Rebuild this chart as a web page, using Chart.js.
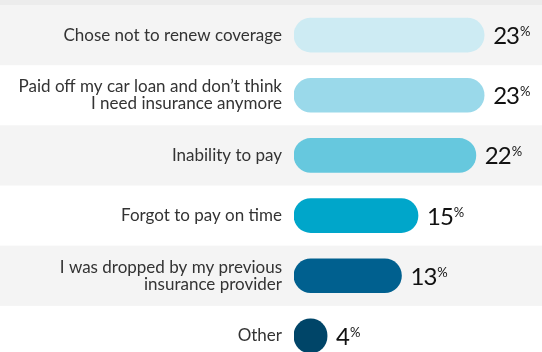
<!DOCTYPE html>
<html>
<head>
<meta charset="utf-8">
<script src="https://cdn.jsdelivr.net/npm/chart.js@4.4.1/dist/chart.umd.min.js"></script>
<style>
  html, body { margin: 0; padding: 0; background: #fff; overflow: hidden; }
  #wrap { width: 542px; height: 352px; overflow: hidden; }
</style>
</head>
<body>
<div id="wrap"><canvas id="myChart"></canvas></div>
<script>
// 数据
const reasons = [
  'Chose not to renew coverage',
  ['Paid off my car loan and don\u2019t think', 'I need insurance anymore'],
  'Inability to pay',
  'Forgot to pay on time',
  ['I was dropped by my previous', 'insurance provider'],
  'Other'
]
const shares = [23, 23, 22, 15, 13, 4]
const barColors = ['#cdebf3', '#9ad9ea', '#66c8de', '#00a6ca', '#00608f', '#004568']

const canvas = document.getElementById('myChart')
canvas.width = 542
canvas.height = 366
const ctx = canvas.getContext('2d')

// 背景条纹
const bandPlugin = {
  id: 'bands',
  beforeDraw(chart) {
    const c = chart.ctx
    const y = chart.scales.y
    const area = chart.chartArea
    const step = (area.bottom - area.top) / reasons.length
    c.save()
    c.fillStyle = '#ececec'
    c.fillRect(0, 0, chart.width, area.top)
    for (let i = 0; i < reasons.length; i++) {
      if (i % 2 == 0) {
        const mid = y.getPixelForValue(i)
        c.fillStyle = '#f4f4f4'
        c.fillRect(0, mid - step / 2, chart.width, step)
      }
    }
    c.restore()
  }
}

// 数值标签
const valuePlugin = {
  id: 'values',
  afterDatasetsDraw(chart) {
    const c = chart.ctx
    const meta = chart.getDatasetMeta(0)
    c.save()
    meta.data.forEach((bar, i) => {
      const txt = String(shares[i])
      const x = bar.x + 9
      c.fillStyle = '#111'
      c.font = '24px Lato'
      c.textBaseline = 'alphabetic'
      c.textAlign = 'left'
      c.letterSpacing = '-1px'
      c.fillText(txt, x, bar.y + 9)
      const w = c.measureText(txt).width
      c.letterSpacing = '0px'
      c.font = '13px Lato'
      c.fillText('%', x + w + 1, bar.y + 1)
    })
    c.restore()
  }
}

const myChart = new Chart(ctx, {
  type: 'bar',
  data: {
    labels: reasons,
    datasets: [{
      data: shares,
      backgroundColor: barColors,
      borderRadius: 17,
      borderSkipped: false,
      barThickness: 34
    }]
  },
  options: {
    indexAxis: 'y',
    responsive: false,
    animation: false,
    layout: { padding: { top: 5, right: 0, bottom: 0, left: 0 } },
    plugins: {
      legend: { display: false },
      tooltip: { enabled: false }
    },
    scales: {
      x: {
        display: false,
        min: 0,
        max: 30
      },
      y: {
        grid: { display: false, drawTicks: false },
        border: { display: false },
        afterFit(scale) {
          scale.width = 294
          scale.paddingTop = 0
          scale.paddingBottom = 0
        },
        ticks: {
          padding: 12,
          color: '#333',
          font: { family: 'Lato', size: 17, lineHeight: 1.02 }
        }
      }
    }
  },
  plugins: [bandPlugin, valuePlugin]
})
</script>
</body>
</html>
